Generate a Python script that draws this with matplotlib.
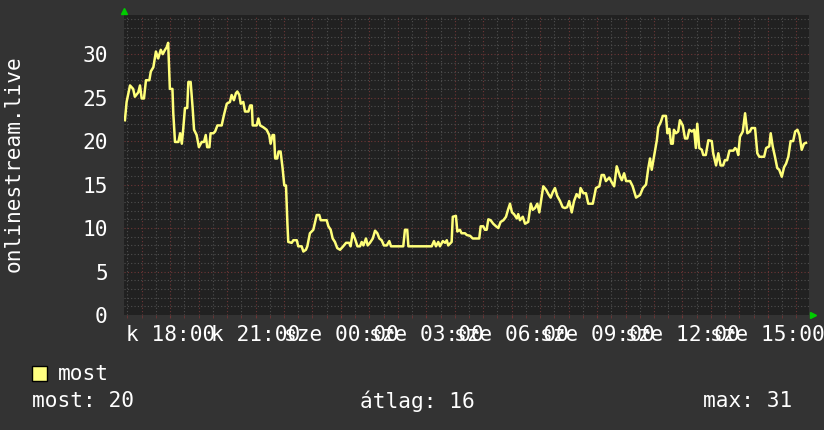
import matplotlib
matplotlib.use("Agg")
import matplotlib.pyplot as plt
from matplotlib.patches import Rectangle
from matplotlib.ticker import MultipleLocator

# time of each sample, hours since midnight of the first day (k = kedd)
hours = [
    16.41, 16.47, 16.59, 16.70, 16.76, 16.88, 16.94, 17.00, 17.08, 17.15,
    17.27, 17.32, 17.41, 17.50, 17.58, 17.67, 17.74, 17.82, 17.88, 17.93,
    17.99, 18.08, 18.11, 18.17, 18.29, 18.35, 18.41, 18.46, 18.52, 18.60,
    18.64, 18.72, 18.79, 18.84, 18.93, 19.01, 19.11, 19.19, 19.25, 19.30,
    19.38, 19.42, 19.52, 19.58, 19.66, 19.81, 19.89, 19.99, 20.10, 20.16,
    20.24, 20.31, 20.36, 20.43, 20.48, 20.57, 20.63, 20.75, 20.81, 20.87,
    20.90, 21.04, 21.10, 21.16, 21.27, 21.39, 21.48, 21.53, 21.60, 21.65,
    21.69, 21.76, 21.81, 21.88, 21.95, 22.01, 22.07, 22.12,
    22.15, 22.27, 22.33, 22.45, 22.50, 22.62, 22.68, 22.77, 22.82, 22.91,
    23.03, 23.15, 23.24, 23.29, 23.50, 23.56, 23.64, 23.71, 23.79, 23.87,
    23.97, 24.08, 24.18, 24.29, 24.34, 24.41, 24.49, 24.58, 24.67, 24.73,
    24.79, 24.88, 24.94, 25.02, 25.12, 25.20, 25.28, 25.35, 25.43, 25.51,
    25.61, 25.70, 25.76, 26.19, 26.25, 26.33, 26.37, 27.19, 27.27, 27.34,
    27.42, 27.48, 27.58, 27.66, 27.72, 27.77, 27.89, 27.93, 28.04, 28.09,
    28.18, 28.24, 28.36, 28.42, 28.54, 28.63, 28.86, 28.91, 29.00, 29.06,
    29.12, 29.18, 29.26, 29.35, 29.45, 29.53, 29.61, 29.71, 29.80, 29.87,
    29.94, 30.01, 30.08, 30.18, 30.23, 30.29, 30.39, 30.47, 30.58, 30.67,
    30.74, 30.82, 30.90, 30.97, 31.02, 31.11, 31.21, 31.29, 31.37, 31.44,
    31.52, 31.60, 31.70, 31.79, 31.87, 31.95, 32.02, 32.11, 32.19, 32.28,
    32.38,
    32.42, 32.52, 32.61, 32.69, 32.85, 32.96, 33.08, 33.16, 33.24, 33.31,
    33.43, 33.51, 33.60, 33.69, 33.75, 33.81, 33.87, 33.95, 34.02, 34.16,
    34.25, 34.37, 34.51, 34.61, 34.72, 34.80, 34.86, 34.92, 35.00, 35.10,
    35.15, 35.24, 35.31, 35.42, 35.47, 35.54, 35.60, 35.66, 35.70, 35.77,
    35.85, 35.91, 36.01, 36.09, 36.17, 36.24, 36.33, 36.41, 36.47, 36.52,
    36.59, 36.68, 36.73, 36.82, 36.91, 37.03, 37.08, 37.18, 37.26, 37.34,
    37.43, 37.49, 37.57, 37.65, 37.79, 37.85, 37.91, 37.96, 38.02, 38.12,
    38.20, 38.28, 38.37, 38.43, 38.55, 38.63, 38.70, 38.87, 38.94, 39.05,
    39.10, 39.17, 39.25, 39.33, 39.40, 39.49, 39.57, 39.64, 39.72, 39.80,
    39.89, 39.96, 40.04, 40.11, 40.19, 40.27, 40.34,
]

# onlinestream.live listeners ("most" = now)
values = [
    22.4, 24.5, 26.4, 26.0, 25.1, 25.6, 26.4, 24.9, 24.9, 27.0,
    27.0, 28.0, 28.5, 30.3, 29.5, 30.5, 30.0, 30.5, 30.8, 31.3,
    26.0, 26.0, 23.2, 19.9, 19.9, 20.9, 19.7, 21.4, 23.8, 23.8,
    26.8, 26.8, 23.8, 21.3, 20.7, 19.3, 19.9, 19.9, 20.7, 19.3,
    19.3, 20.9, 20.9, 21.1, 21.8, 21.8, 23.0, 24.3, 24.5, 25.3,
    24.7, 25.5, 25.7, 25.3, 24.3, 24.5, 23.4, 23.4, 24.1, 24.1,
    21.8, 21.8, 22.6, 21.8, 21.6, 21.3, 20.7, 19.7, 20.7, 20.7,
    18.0, 18.0, 18.8, 18.8, 16.9, 14.9, 14.9, 10.5,
    8.4, 8.3, 8.6, 8.6, 7.9, 7.9, 7.3, 7.5, 7.9, 9.4,
    9.8, 11.5, 11.5, 10.9, 10.9, 10.2, 9.8, 8.8, 8.4, 7.7,
    7.5, 7.9, 8.3, 8.3, 7.9, 9.4, 8.8, 7.9, 7.9, 8.4,
    8.0, 8.8, 8.0, 8.3, 8.8, 9.7, 9.4, 8.8, 8.6, 8.0,
    8.0, 8.5, 7.9, 7.9, 9.8, 9.8, 7.9, 7.9, 8.5, 7.9,
    8.4, 7.9, 8.5, 8.3, 8.6, 8.0, 8.4, 11.3, 11.4, 9.6,
    9.8, 9.4, 9.4, 9.2, 9.1, 8.8, 8.8, 10.2, 10.2, 9.8,
    9.8, 11.0, 10.9, 10.5, 10.2, 10.0, 10.7, 10.9, 11.3, 12.1,
    12.8, 11.8, 11.6, 11.1, 11.6, 10.9, 11.3, 10.5, 10.7, 12.8,
    12.1, 12.3, 12.8, 11.8, 12.9, 14.8, 14.4, 13.9, 13.5, 14.1,
    14.6, 13.7, 13.1, 12.4, 12.3, 12.4, 13.1, 11.8, 13.1, 13.9,
    13.5,
    14.6, 14.0, 14.0, 12.8, 12.8, 14.6, 14.8, 16.1, 16.1, 15.4,
    15.8, 15.3, 14.8, 17.1, 16.5, 15.9, 15.5, 16.3, 15.4, 15.4,
    14.8, 13.5, 13.8, 14.6, 15.0, 16.9, 18.0, 16.7, 18.2, 20.1,
    21.6, 22.2, 22.9, 22.9, 20.9, 21.4, 19.7, 19.7, 21.3, 20.9,
    21.1, 22.4, 21.8, 20.3, 20.3, 21.3, 21.1, 21.3, 19.2, 22.0,
    19.2, 19.0, 18.4, 18.4, 20.1, 20.0, 18.6, 17.2, 18.6, 17.2,
    17.2, 17.8, 17.8, 18.9, 18.9, 19.2, 19.0, 18.4, 20.5, 21.1,
    23.2, 20.9, 21.1, 21.5, 21.5, 18.6, 18.2, 18.2, 19.2, 19.4,
    20.9, 19.4, 18.2, 16.9, 16.7, 15.9, 17.0, 17.4, 18.2, 20.0,
    20.0, 21.1, 21.3, 20.7, 19.0, 19.7, 19.8,
]

tick_hours = [18, 21, 24, 27, 30, 33, 36, 39]
tick_labels = ["k 18:00", "k 21:00", "sze 00:00", "sze 03:00",
               "sze 06:00", "sze 09:00", "sze 12:00", "sze 15:00"]

series_name = "most"
stat_now = 20
stat_avg = 16
stat_max = 31

CANVAS = "#333333"
PLOT_BG = "#212121"
LINE = "#ffff7a"
TEXT = "#ffffff"
MINOR = "#4f4f4f"
MAJOR = "#6e3636"

plt.rcParams["font.family"] = ["DejaVu Sans Mono"]
plt.rcParams["font.size"] = 15.2

fig = plt.figure(figsize=(8.24, 4.30), dpi=100, facecolor=CANVAS)
W, H = 824, 430
ax = fig.add_axes([124.5 / W, 1 - 315 / H, (809 - 124.5) / W, 300 / H])
ax.set_facecolor(PLOT_BG)

ax.set_xlim(16.396, 40.446)
ax.set_ylim(0, 34.5)

# rrdtool style grid: half hour / 1 unit minor, hour / 5 units major
ax.xaxis.set_minor_locator(MultipleLocator(0.5))
ax.yaxis.set_minor_locator(MultipleLocator(1))
ax.set_xticks(tick_hours)
ax.set_xticklabels(tick_labels)
ax.set_yticks([0, 5, 10, 15, 20, 25, 30])
for x in [h / 2 for h in range(33, 82)]:
    is_major = float(x).is_integer()
    ax.axvline(x, color=MAJOR if is_major else MINOR, lw=0.8,
               ls=(0, (1, 2)), zorder=1)
for y in range(1, 35):
    is_major = y % 5 == 0
    ax.axhline(y, color=MAJOR if is_major else MINOR, lw=0.8,
               ls=(0, (1, 2)), zorder=1)

ax.tick_params(axis="x", which="both", length=2, color=MAJOR, pad=5,
               labelcolor=TEXT)
ax.tick_params(axis="y", which="both", length=0, pad=12, labelcolor=TEXT)
for s in ax.spines.values():
    s.set_visible(False)

ax.plot(hours, values, color=LINE, lw=1.8, zorder=3)

# green axis arrows
ax.plot([0], [1.015], marker="^", color="#00cc00", ms=5,
        transform=ax.transAxes, clip_on=False)
ax.plot([1.006], [0], marker=">", color="#00cc00", ms=5,
        transform=ax.transAxes, clip_on=False)

fig.text(14 / W, 1 - 164 / H, "onlinestream.live", rotation=90,
         ha="center", va="center", color=TEXT)

# legend
fig.patches.append(Rectangle((32 / W, 1 - 381 / H), 15 / W, 15 / H,
                             facecolor="#ffff80", edgecolor="black", lw=1,
                             transform=fig.transFigure, figure=fig))
fig.text(58 / W, 1 - 374 / H, series_name, ha="left", va="center", color=TEXT)
fig.text(32 / W, 1 - 401 / H, f"most: {stat_now}", ha="left", va="center",
         color=TEXT)
fig.text(360 / W, 1 - 401 / H, f"átlag: {stat_avg}", ha="left", va="center",
         color=TEXT)
fig.text(792 / W, 1 - 401 / H, f"max: {stat_max}", ha="right", va="center",
         color=TEXT)

fig.savefig("out.png", dpi=100, facecolor=CANVAS)
